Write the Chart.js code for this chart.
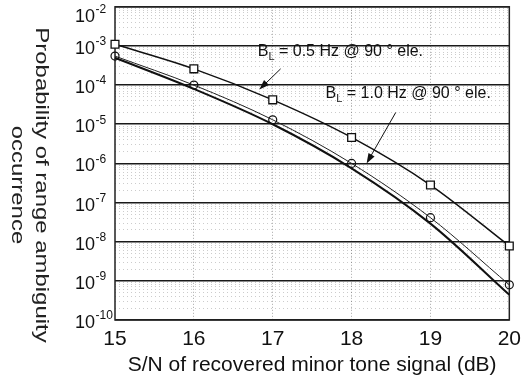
<!DOCTYPE html>
<html>
<head>
<meta charset="utf-8">
<script src="https://cdn.jsdelivr.net/npm/chart.js@4.4.1/dist/chart.umd.min.js"></script>
<style>
  html, body { margin: 0; padding: 0; background: #fff; }
</style>
</head>
<body>
<canvas id="chart" width="528" height="380"></canvas>
<script>
// S/N of recovered minor tone signal (dB)
const snr = [15, 16, 17, 18, 19, 20];
// probability of range ambiguity
const bl05 = [1.1e-3, 2.6e-4, 4.2e-5, 4.6e-6, 2.8e-7, 7.8e-9];   // squares
const bl10 = [5.5e-4, 1.0e-4, 1.3e-5, 1.0e-6, 4.1e-8, 7.9e-10];  // circles
const bl10b = [5.0e-4, 8.0e-5, 1.0e-5, 7.5e-7, 2.9e-8, 4.4e-10]; // plain line
const xTicks = [15, 16, 17, 18, 19, 20];
const yExponents = [-2, -3, -4, -5, -6, -7, -8, -9, -10];

const FONT = '"Liberation Sans", Arial, sans-serif';

// annotation anchors in data units: label start, arrow tail, arrow tip
const notes = [
  { sub: "L", text: " = 0.5 Hz @ 90 \u00b0 ele.", at: [16.81, 5.7e-4], tail: [17.1, 2.6e-4], tip: [16.83, 7.7e-5] },
  { sub: "L", text: " = 1.0 Hz @ 90 \u00b0 ele.", at: [17.67, 4.8e-5], tail: [18.56, 2.0e-5], tip: [18.19, 1.0e-6] }
];

const pts = (ys) => snr.map((x, i) => ({ x, y: ys[i] }));

const decadeTicks = yExponents.map(e => ({ value: Math.pow(10, e) }));
const minorTicks = [];
for (let e = -10; e < -2; e++) {
  for (let m = 2; m <= 9; m++) minorTicks.push({ value: m * Math.pow(10, e) });
}

const framePlugin = {
  id: "frame",
  beforeDatasetsDraw(chart) {
    const { ctx, chartArea: a } = chart;
    ctx.save();
    ctx.strokeStyle = "#222";
    ctx.lineWidth = 1.5;
    ctx.strokeRect(a.left, a.top, a.right - a.left, a.bottom - a.top);
    ctx.restore();
  }
};

const yLabelPlugin = {
  id: "yLabels",
  afterDraw(chart) {
    const { ctx } = chart;
    const ys = chart.scales.y;
    ctx.save();
    ctx.fillStyle = "#111";
    yExponents.forEach(e => {
      let y = ys.getPixelForValue(Math.pow(10, e)) + 3;
      y = Math.max(y, 17);
      ctx.textBaseline = "middle";
      ctx.font = "18px " + FONT;
      ctx.textAlign = "right";
      ctx.fillText("10", 95, y);
      ctx.font = "12px " + FONT;
      ctx.textAlign = "left";
      ctx.fillText(String(e), 95.5, y - 7);
    });
    // y title, rotated clockwise
    const lines = [["Probability of range ambiguity", 41], ["occurrence", 17]];
    ctx.fillStyle = "#222";
    ctx.font = "18px " + FONT;
    ctx.textAlign = "center";
    ctx.textBaseline = "middle";
    lines.forEach(([t, x]) => {
      ctx.save();
      ctx.translate(x, 185);
      ctx.rotate(Math.PI / 2);
      ctx.scale(1.33, 1);
      ctx.fillText(t, 0, 0);
      ctx.restore();
    });
    ctx.restore();
  }
};

const notePlugin = {
  id: "notes",
  afterDatasetsDraw(chart) {
    const { ctx } = chart;
    const xs = chart.scales.x, ys = chart.scales.y;
    ctx.save();
    ctx.fillStyle = "#111";
    ctx.strokeStyle = "#111";
    notes.forEach(n => {
      const x0 = xs.getPixelForValue(n.at[0]);
      const y0 = ys.getPixelForValue(n.at[1]);
      ctx.textBaseline = "alphabetic";
      ctx.textAlign = "left";
      ctx.font = "16px " + FONT;
      ctx.fillText("B", x0, y0);
      let w = ctx.measureText("B").width;
      ctx.font = "11px " + FONT;
      ctx.fillText(n.sub, x0 + w, y0 + 4);
      w += ctx.measureText(n.sub).width;
      ctx.font = "16px " + FONT;
      ctx.fillText(n.text, x0 + w, y0);

      const tx = xs.getPixelForValue(n.tail[0]), ty = ys.getPixelForValue(n.tail[1]);
      const hx = xs.getPixelForValue(n.tip[0]), hy = ys.getPixelForValue(n.tip[1]);
      const ang = Math.atan2(hy - ty, hx - tx);
      ctx.lineWidth = 1;
      ctx.beginPath();
      ctx.moveTo(tx, ty);
      ctx.lineTo(hx - 6 * Math.cos(ang), hy - 6 * Math.sin(ang));
      ctx.stroke();
      ctx.beginPath();
      ctx.moveTo(hx, hy);
      ctx.lineTo(hx - 10 * Math.cos(ang) + 3.5 * Math.sin(ang), hy - 10 * Math.sin(ang) - 3.5 * Math.cos(ang));
      ctx.lineTo(hx - 10 * Math.cos(ang) - 3.5 * Math.sin(ang), hy - 10 * Math.sin(ang) + 3.5 * Math.cos(ang));
      ctx.closePath();
      ctx.fill();
    });
    ctx.restore();
  }
};

const ctx = document.getElementById("chart").getContext("2d");

new Chart(ctx, {
  type: "line",
  data: {
    datasets: [
      {
        label: "BL = 0.5 Hz",
        data: pts(bl05),
        borderColor: "#111",
        borderWidth: 1.5,
        pointStyle: "rect",
        pointRadius: 5.5,
        pointBorderWidth: 1.3,
        pointBackgroundColor: "#fff",
        pointBorderColor: "#111",
        cubicInterpolationMode: "monotone",
        clip: false
      },
      {
        label: "BL = 1.0 Hz",
        data: pts(bl10),
        borderColor: "#222",
        borderWidth: 1,
        pointStyle: "circle",
        pointRadius: 4,
        pointBorderWidth: 1.2,
        pointBackgroundColor: "rgba(255,255,255,0)",
        pointBorderColor: "#111",
        cubicInterpolationMode: "monotone",
        clip: false
      },
      {
        label: "BL = 1.0 Hz (b)",
        data: pts(bl10b),
        borderColor: "#111",
        borderWidth: 2,
        pointRadius: 0,
        cubicInterpolationMode: "monotone",
        clip: false
      }
    ]
  },
  options: {
    responsive: false,
    animation: false,
    layout: { padding: { left: 0, top: 5, right: 17, bottom: 2 } },
    plugins: {
      legend: { display: false },
      tooltip: { enabled: false }
    },
    scales: {
      x: {
        type: "linear",
        min: 15,
        max: 20,
        afterBuildTicks: (s) => { s.ticks = xTicks.map(v => ({ value: v })); },
        afterFit: (s) => { s.height = 58; },
        grid: {
          drawTicks: false,
          color: (c) => (c.tick && (c.tick.value === 15 || c.tick.value === 20)) ? "rgba(0,0,0,0)" : "rgba(0,0,0,0.35)",
          lineWidth: 1
        },
        border: { display: false, dash: [1, 2] },
        ticks: {
          color: "#111",
          padding: 7,
          font: { family: FONT, size: 21 }
        },
        title: {
          display: true,
          text: "S/N of recovered minor tone signal (dB)",
          color: "#111",
          padding: { top: 3, bottom: 0 },
          font: { family: FONT, size: 21 }
        }
      },
      yMinor: {
        type: "logarithmic",
        position: "left",
        min: 1e-10,
        max: 1e-2,
        afterBuildTicks: (s) => { s.ticks = minorTicks.slice(); },
        afterFit: (s) => { s.width = 0; },
        grid: { drawTicks: false, color: "rgba(0,0,0,0.2)", lineWidth: 1 },
        border: { display: false, dash: [1, 3] },
        ticks: { display: false }
      },
      y: {
        type: "logarithmic",
        position: "left",
        min: 1e-10,
        max: 1e-2,
        afterBuildTicks: (s) => { s.ticks = decadeTicks.slice(); },
        afterFit: (s) => { s.width = 115; },
        grid: { drawTicks: false, color: "#1a1a1a", lineWidth: 1.5 },
        border: { display: false },
        ticks: { display: false }
      }
    }
  },
  plugins: [framePlugin, yLabelPlugin, notePlugin]
});
</script>
</body>
</html>
